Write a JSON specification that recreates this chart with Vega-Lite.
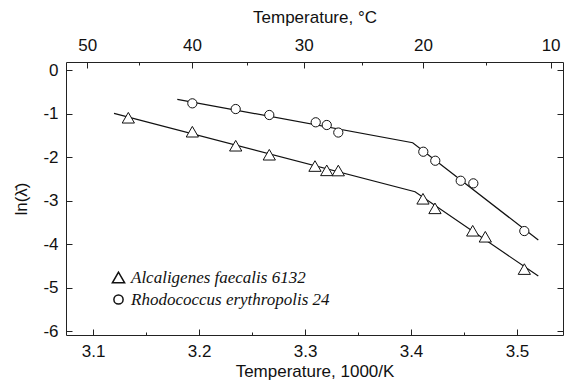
{
  "$schema": "https://vega.github.io/schema/vega-lite/v6.json",
  "autosize": "none",
  "width": 497,
  "height": 273,
  "padding": {"left": 66, "top": 62, "right": 1, "bottom": 49},
  "background": "white",
  "config": {
    "view": {"stroke": null},
    "axis": {
      "grid": false,
      "domainColor": "#222",
      "tickColor": "#222",
      "labelColor": "#111",
      "titleColor": "#111",
      "labelFont": "Liberation Sans",
      "titleFont": "Liberation Sans",
      "labelFontSize": 17,
      "titleFontSize": 17,
      "titleFontWeight": "normal"
    },
    "legend": {
      "orient": "none",
      "legendX": 44,
      "legendY": 207,
      "labelFont": "Liberation Serif",
      "labelFontStyle": "italic",
      "labelFontSize": 17,
      "labelLimit": 0,
      "labelColor": "#111",
      "rowPadding": 4
    }
  },
  "datasets": {
    "points": [
      {"strain": "Alcaligenes faecalis 6132", "x": 3.1333, "y": -1.097},
      {"strain": "Alcaligenes faecalis 6132", "x": 3.1937, "y": -1.418},
      {"strain": "Alcaligenes faecalis 6132", "x": 3.2346, "y": -1.740},
      {"strain": "Alcaligenes faecalis 6132", "x": 3.2663, "y": -1.947},
      {"strain": "Alcaligenes faecalis 6132", "x": 3.3094, "y": -2.207},
      {"strain": "Alcaligenes faecalis 6132", "x": 3.3205, "y": -2.306},
      {"strain": "Alcaligenes faecalis 6132", "x": 3.3314, "y": -2.310},
      {"strain": "Alcaligenes faecalis 6132", "x": 3.4113, "y": -2.959},
      {"strain": "Alcaligenes faecalis 6132", "x": 3.4226, "y": -3.179},
      {"strain": "Alcaligenes faecalis 6132", "x": 3.4582, "y": -3.694},
      {"strain": "Alcaligenes faecalis 6132", "x": 3.4701, "y": -3.832},
      {"strain": "Alcaligenes faecalis 6132", "x": 3.5069, "y": -4.575},
      {"strain": "Rhodococcus erythropolis 24", "x": 3.1937, "y": -0.766},
      {"strain": "Rhodococcus erythropolis 24", "x": 3.2346, "y": -0.897},
      {"strain": "Rhodococcus erythropolis 24", "x": 3.2663, "y": -1.034},
      {"strain": "Rhodococcus erythropolis 24", "x": 3.3101, "y": -1.202},
      {"strain": "Rhodococcus erythropolis 24", "x": 3.3205, "y": -1.264},
      {"strain": "Rhodococcus erythropolis 24", "x": 3.3314, "y": -1.437},
      {"strain": "Rhodococcus erythropolis 24", "x": 3.4116, "y": -1.878},
      {"strain": "Rhodococcus erythropolis 24", "x": 3.4229, "y": -2.085},
      {"strain": "Rhodococcus erythropolis 24", "x": 3.4469, "y": -2.545},
      {"strain": "Rhodococcus erythropolis 24", "x": 3.4588, "y": -2.605},
      {"strain": "Rhodococcus erythropolis 24", "x": 3.5069, "y": -3.701}
    ],
    "fits": [
      {"strain": "Alcaligenes faecalis 6132", "x": 3.1198, "y": -0.995},
      {"strain": "Alcaligenes faecalis 6132", "x": 3.4038, "y": -2.798},
      {"strain": "Alcaligenes faecalis 6132", "x": 3.5201, "y": -4.736},
      {"strain": "Rhodococcus erythropolis 24", "x": 3.1795, "y": -0.674},
      {"strain": "Rhodococcus erythropolis 24", "x": 3.4016, "y": -1.671},
      {"strain": "Rhodococcus erythropolis 24", "x": 3.5201, "y": -3.908}
    ]
  },
  "resolve": {
    "scale": {"x": "shared", "y": "shared"},
    "axis": {"x": "independent", "y": "independent"}
  },
  "layer": [
    {
      "data": {"name": "fits"},
      "transform": [{"filter": "datum.strain == 'Alcaligenes faecalis 6132'"}],
      "mark": {"type": "line", "color": "#111", "strokeWidth": 1.2},
      "encoding": {
        "x": {
          "field": "x", "type": "quantitative",
          "scale": {"domain": [3.0745, 3.5434], "nice": false, "zero": false},
          "axis": {
            "orient": "bottom",
            "values": [3.1, 3.2, 3.3, 3.4, 3.5],
            "format": ".1f",
            "tickSize": -6,
            "labelPadding": 14,
            "title": "Temperature, 1000/K",
            "titlePadding": 4
          }
        },
        "y": {
          "field": "y", "type": "quantitative",
          "scale": {"domain": [-6.09, 0.184], "nice": false, "zero": false},
          "axis": {
            "orient": "left",
            "values": [0, -1, -2, -3, -4, -5, -6],
            "labelExpr": "'' + datum.value",
            "tickSize": -6,
            "labelPadding": 14,
            "title": "ln(λ̄)",
            "titlePadding": 12
          }
        }
      }
    },
    {
      "data": {"name": "fits"},
      "transform": [{"filter": "datum.strain == 'Rhodococcus erythropolis 24'"}],
      "mark": {"type": "line", "color": "#111", "strokeWidth": 1.2},
      "encoding": {
        "x": {
          "field": "x", "type": "quantitative",
          "axis": {
            "orient": "bottom",
            "values": [3.15, 3.25, 3.35, 3.45],
            "tickSize": -3,
            "labels": false,
            "domain": false,
            "title": null
          }
        },
        "y": {
          "field": "y", "type": "quantitative",
          "axis": {
            "orient": "right",
            "values": [0, -1, -2, -3, -4, -5, -6],
            "tickSize": -6,
            "labels": false,
            "title": null
          }
        }
      }
    },
    {
      "data": {"name": "points"},
      "transform": [{"filter": "datum.strain == 'Alcaligenes faecalis 6132'"}],
      "mark": {"type": "point", "filled": true, "fill": "white", "stroke": "#111", "strokeWidth": 1, "opacity": 1},
      "encoding": {
        "x": {
          "field": "x", "type": "quantitative",
          "axis": {
            "orient": "top",
            "values": [3.09454, 3.19336, 3.29870, 3.41122, 3.53170],
            "labelExpr": "format(1000 / datum.value - 273.15, '.0f')",
            "tickSize": -6,
            "labelPadding": 14,
            "title": "Temperature, °C",
            "titlePadding": 10
          }
        },
        "y": {"field": "y", "type": "quantitative", "axis": null},
        "shape": {
          "field": "strain", "type": "nominal",
          "scale": {"domain": ["Alcaligenes faecalis 6132", "Rhodococcus erythropolis 24"], "range": ["triangle-up", "circle"]},
          "legend": {
            "title": null,
            "encode": {"symbols": {"update": {"stroke": {"value": "#111"}, "fill": {"value": "white"}, "strokeWidth": {"value": 1}, "opacity": {"value": 1}}}}
          }
        },
        "size": {
          "field": "strain", "type": "nominal",
          "scale": {"domain": ["Alcaligenes faecalis 6132", "Rhodococcus erythropolis 24"], "range": [150, 85]},
          "legend": {
            "title": null,
            "encode": {"symbols": {"update": {"stroke": {"value": "#111"}, "fill": {"value": "white"}, "strokeWidth": {"value": 1}, "opacity": {"value": 1}}}}
          }
        }
      }
    },
    {
      "data": {"name": "points"},
      "transform": [{"filter": "datum.strain == 'Rhodococcus erythropolis 24'"}],
      "mark": {"type": "point", "filled": true, "fill": "white", "stroke": "#111", "strokeWidth": 1, "opacity": 1},
      "encoding": {
        "x": {
          "field": "x", "type": "quantitative",
          "axis": {
            "orient": "top",
            "values": [3.14317, 3.24517, 3.35402, 3.47041],
            "tickSize": -3,
            "labels": false,
            "domain": false,
            "title": null
          }
        },
        "y": {"field": "y", "type": "quantitative", "axis": null},
        "shape": {"field": "strain", "type": "nominal"},
        "size": {"field": "strain", "type": "nominal"}
      }
    }
  ]
}
